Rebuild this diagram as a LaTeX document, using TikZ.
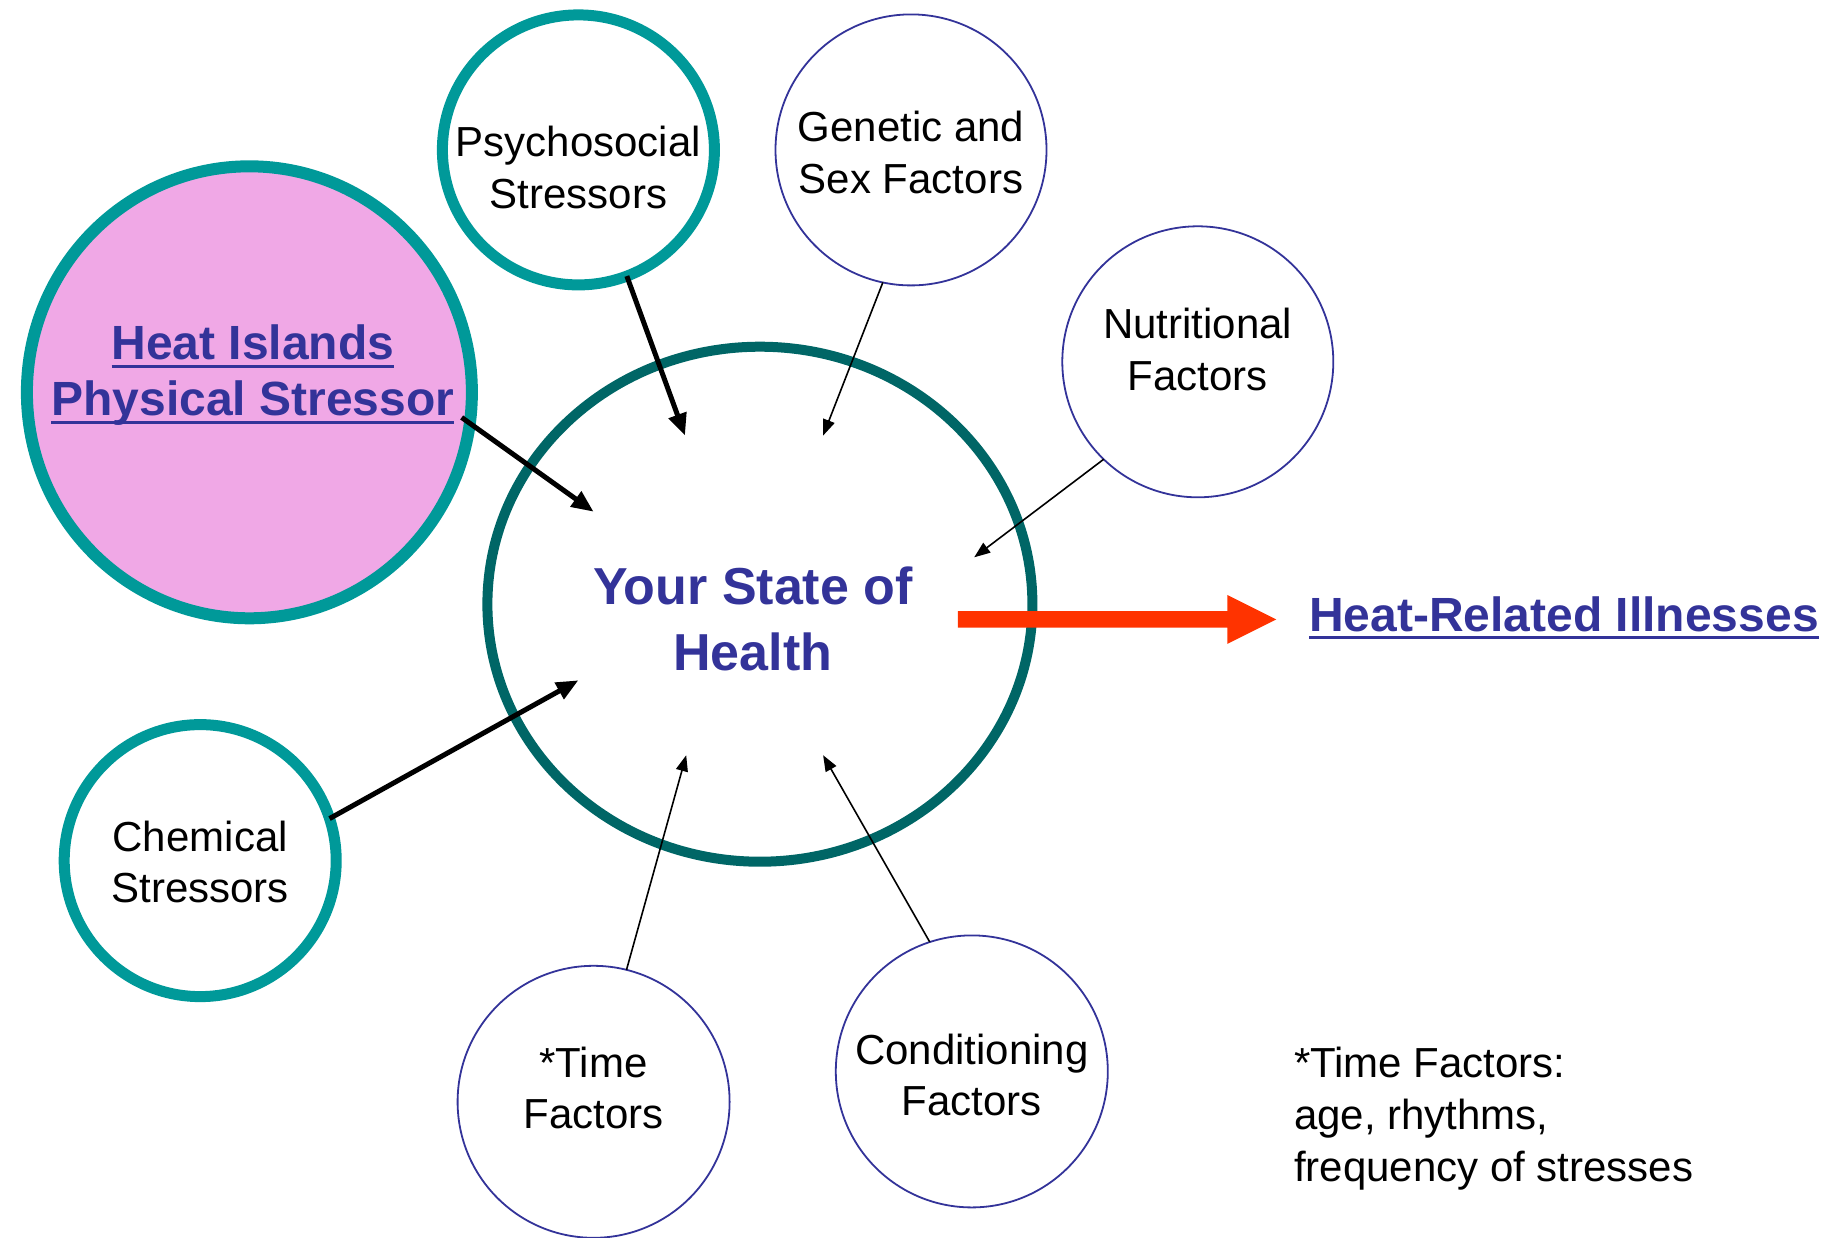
\documentclass[tikz,border=0pt]{standalone}
\usepackage{fontspec}
\setmainfont{Liberation Sans}
\usetikzlibrary{arrows.meta,shapes.geometric,calc}
\definecolor{tealring}{HTML}{009999}
\definecolor{darkteal}{HTML}{006666}
\definecolor{navy}{HTML}{333399}
\definecolor{pinkfill}{HTML}{F0A8E6}
\definecolor{redarrow}{HTML}{FF3300}
\newcommand\myul[1]{\setbox0=\hbox{#1}\rlap{\rule[-8pt]{\wd0}{3pt}}\box0}
\begin{document}
\begin{tikzpicture}[x=1pt,y=-1pt,
  ring/.style={ellipse, draw=tealring, line width=11pt, inner sep=0pt, outer sep=0pt},
  thinring/.style={ellipse, draw=navy, line width=1.8pt, inner sep=0pt, outer sep=0pt,
     minimum width=271pt, minimum height=271pt},
  txt/.style={align=center, inner sep=0pt, text=black, font=\fontsize{42}{51.5}\selectfont},
  bluetxt/.style={align=center, inner sep=0pt, text=navy},
  bigarrow/.style={draw=black, line width=5pt, -{Triangle[length=22pt,width=18pt]}},
  smallarrow/.style={draw=black, line width=1.6pt, -{Triangle[length=16pt,width=12pt]}}]
\useasboundingbox (0,0) rectangle (1836,1237);

% circles
\node[ring, fill=pinkfill, line width=12pt, minimum width=445pt, minimum height=452pt] (heat) at (249.4,392.3) {};
\node[ring, minimum width=272pt, minimum height=270pt] (psy) at (578.4,149.9) {};
\node[thinring] (gen) at (911,149.9) {};
\node[thinring] (nut) at (1197.8,361.8) {};
\node[ellipse, draw=darkteal, line width=10pt, inner sep=0pt, outer sep=0pt,
      minimum width=545pt, minimum height=515pt] (health) at (759.9,604.2) {};
\node[ring, minimum width=272pt, minimum height=272pt] (chem) at (200.2,860.6) {};
\node[thinring, minimum width=272pt, minimum height=272pt] (time) at (593.6,1101.8) {};
\node[thinring, minimum width=272pt, minimum height=272pt] (cond) at (971.8,1071.4) {};

% texts
\node[bluetxt, font=\bfseries\fontsize{48}{56}\selectfont] (heatT) at (252.9,375.5)
  {\myul{Heat Islands}\\\myul{Physical Stressor}};
\node[txt] (psyT) at (578.4,167.5) {Psychosocial\\Stressors};
\node[txt] (genT) at (911,152.5) {Genetic and\\Sex Factors};
\node[txt] (nutT) at (1197.8,349.5) {Nutritional\\Factors};
\node[bluetxt, font=\bfseries\fontsize{52}{65.5}\selectfont] (healthT) at (752.9,619) {Your State of\\Health};
\node[txt] (chemT) at (200.2,862) {Chemical\\Stressors};
\node[txt] (timeT) at (593.6,1088) {*Time\\Factors};
\node[txt] (condT) at (971.8,1075) {Conditioning\\Factors};
\node[bluetxt, anchor=base west, font=\bfseries\fontsize{48}{56}\selectfont] (hri) at (1309,631)
  {\myul{Heat-Related Illnesses}};
\node[txt, align=left, anchor=north west, font=\fontsize{42}{52}\selectfont] (note) at (1293.8,1047)
  {*Time Factors:\\age, rhythms,\\frequency of stresses};

% arrow tips inside the central circle
\coordinate (tPsy) at (685.0,435.6);
\coordinate (tGen) at (823.1,435.6);
\coordinate (tNut) at (974.2,557.3);
\coordinate (tHeat) at (593.6,511.7);
\coordinate (tChem) at (578.4,680.3);
\coordinate (tTime) at (686.2,755.2);
\coordinate (tCond) at (823.1,755.2);

\draw[bigarrow] (psy.-69) -- (tPsy);
\draw[bigarrow, shorten <=-10pt] (heat.-8.6) -- (tHeat);
\draw[bigarrow] (chem.18.7) -- (tChem);
\draw[smallarrow] (gen.-102.5) -- (tGen);
\draw[smallarrow] (nut.-134.2) -- (tNut);
\draw[smallarrow] (time.76.7) -- (tTime);
\draw[smallarrow] (cond.108.7) -- (tCond);

% red block arrow
\coordinate (rs) at (957.8,619.4);
\coordinate (rt) at (1276.3,619.4);
\fill[redarrow] ($(rs)+(0,-8.2)$) -- ($(rt)+(-49,-8.2)$) -- ($(rt)+(-49,-24.5)$) -- (rt)
  -- ($(rt)+(-49,24.5)$) -- ($(rt)+(-49,8.2)$) -- ($(rs)+(0,8.2)$) -- cycle;
\end{tikzpicture}
\end{document}
